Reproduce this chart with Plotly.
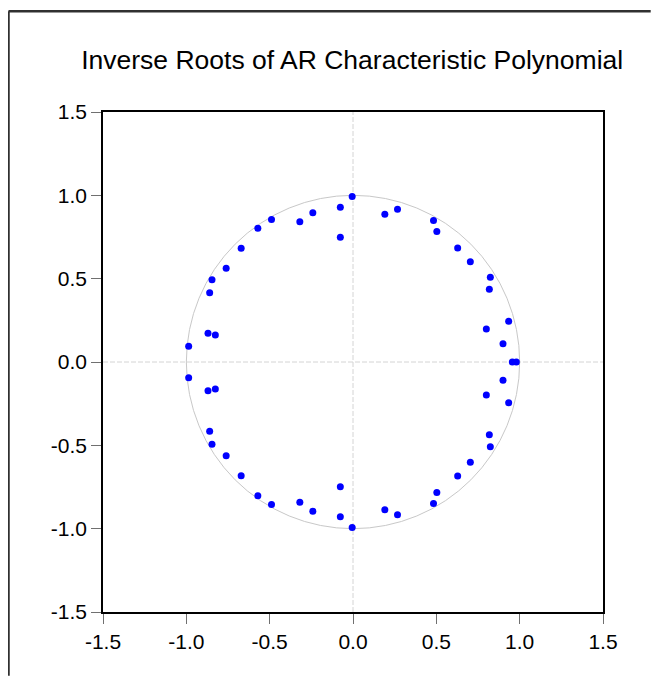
import plotly.graph_objects as go

upper_re = [-0.005, -0.076, -0.076, -0.241, -0.319, -0.489, -0.571, -0.671, -0.761,
            -0.846, -0.860, -0.870, -0.826, -0.986,
            0.191, 0.267, 0.483, 0.503, 0.628, 0.704, 0.824, 0.818, 0.934, 0.800, 0.900]
upper_im = [0.993, 0.929, 0.749, 0.895, 0.841, 0.855, 0.803, 0.683, 0.563,
            0.494, 0.416, 0.172, 0.162, 0.094,
            0.887, 0.917, 0.849, 0.783, 0.684, 0.601, 0.509, 0.437, 0.245, 0.198, 0.110]
lower_re = [-0.005, -0.076, -0.076, -0.241, -0.319, -0.489, -0.571, -0.671, -0.761,
            -0.846, -0.860, -0.870, -0.826, -0.986,
            0.191, 0.267, 0.483, 0.503, 0.628, 0.704, 0.824, 0.818, 0.934, 0.800, 0.900]
lower_im = [-0.993, -0.929, -0.749, -0.895, -0.841, -0.855, -0.803, -0.683, -0.563,
            -0.494, -0.416, -0.172, -0.162, -0.094,
            -0.887, -0.917, -0.849, -0.783, -0.684, -0.601, -0.509, -0.437, -0.245, -0.198, -0.110]
real_re = [0.956, 0.980]
real_im = [0.0, 0.0]

tick_vals = [-1.5, -1.0, -0.5, 0.0, 0.5, 1.0, 1.5]
tick_text = ["-1.5", "-1.0", "-0.5", "0.0", "0.5", "1.0", "1.5"]

title_text = "Inverse Roots of AR Characteristic Polynomial"

xs = upper_re + lower_re + real_re
ys = upper_im + lower_im + real_im

fig = go.Figure()
fig.add_trace(go.Scatter(
    x=xs, y=ys, mode="markers",
    marker=dict(color="#0000ff", size=7, line=dict(width=0)),
    showlegend=False, hoverinfo="x+y"))

FONT = "Liberation Sans, Arial, sans-serif"

# figure sits inside the page body (8px default margin on every side)
W, H = 643, 668
L, T, PW, PH = 95.3, 104.3, 500, 500
R = W - L - PW
B = H - T - PH

fx0 = (0.8 - L) / PW          # outer frame left (paper units)
fy1 = (T + PH - 3.5) / PH     # outer frame top
fx1 = (W - L) / PW            # right edge of figure
fy0 = (T + PH - H) / PH       # bottom edge of figure

shapes = [
    # unit circle
    dict(type="circle", xref="x", yref="y", x0=-1, y0=-1, x1=1, y1=1,
         line=dict(color="#c8c8c8", width=1), layer="below"),
    # zero lines (dashed)
    dict(type="line", xref="x", yref="paper", x0=0, x1=0, y0=0, y1=1,
         line=dict(color="#d4d4d4", width=1, dash="5px,2px"), layer="below"),
    dict(type="line", xref="paper", yref="y", x0=0, x1=1, y0=0, y1=0,
         line=dict(color="#d4d4d4", width=1, dash="5px,2px"), layer="below"),
    # outer frame: left and top edges (the rest lies outside the window)
    dict(type="line", xref="paper", yref="paper", x0=fx0, x1=fx0, y0=fy0, y1=fy1,
         line=dict(color="#303030", width=2.5)),
    dict(type="line", xref="paper", yref="paper", x0=fx0, x1=fx1, y0=fy1, y1=fy1,
         line=dict(color="#303030", width=2.5)),
]

axis_common = dict(
    range=[-1.5, 1.5], tickmode="array", tickvals=tick_vals, ticktext=tick_text,
    showgrid=False, zeroline=False, showline=True, mirror=True,
    linecolor="#000000", linewidth=1.5, ticks="outside", ticklen=10,
    tickcolor="#707070", tickwidth=1,
    tickfont=dict(family=FONT, size=21, color="#000000"),
)

fig.update_layout(
    width=W, height=H, autosize=False,
    margin=dict(l=L, r=R, t=T, b=B),
    paper_bgcolor="#ffffff", plot_bgcolor="#ffffff",
    title=dict(text=title_text, x=344.2 / W, xanchor="center",
               y=1 - 51.5 / H, yanchor="middle",
               font=dict(family=FONT, size=26.5, color="#000000")),
    xaxis=dict(**axis_common),
    yaxis=dict(**axis_common),
    shapes=shapes,
)

fig.write_html("out.html")
